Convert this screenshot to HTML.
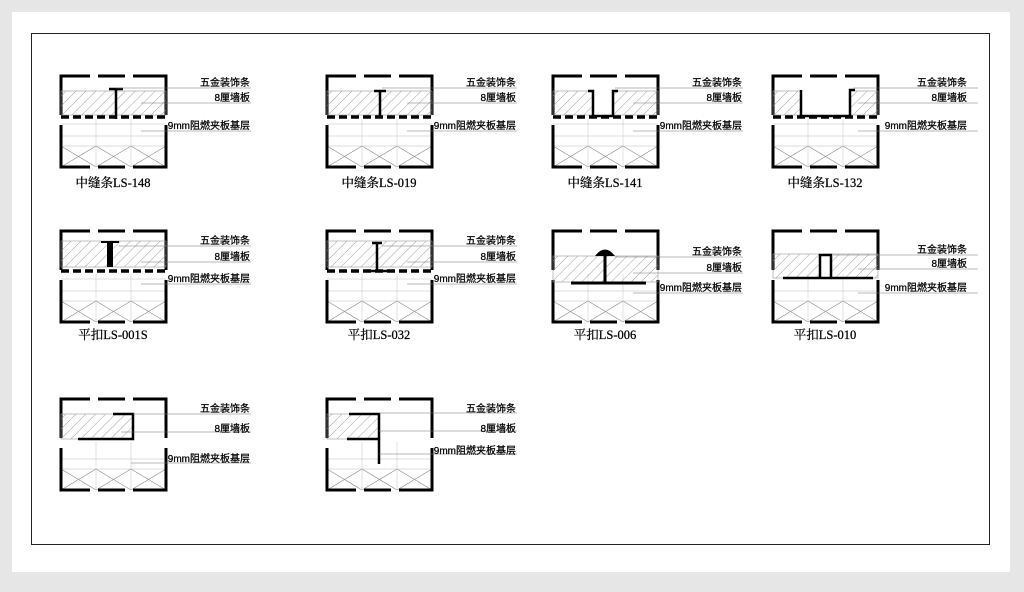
<!DOCTYPE html>
<html><head><meta charset="utf-8"><style>
html,body{margin:0;padding:0;background:#e6e6e6;width:1024px;height:592px;overflow:hidden}
svg{display:block}
text{font-family:"Liberation Sans","Noto Sans CJK SC",sans-serif;font-size:10px;fill:#000;stroke:#000;stroke-width:0.25}
.cap{font-family:"Liberation Serif","Noto Serif CJK SC",serif;font-size:12.5px;text-anchor:middle}
.lb{text-anchor:end}
</style></head><body>
<svg width="1024" height="592" viewBox="0 0 1024 592">
<defs>
<pattern id="h" width="7" height="7" patternUnits="userSpaceOnUse" patternTransform="rotate(45)">
<line x1="0" y1="0" x2="0" y2="7" stroke="#888" stroke-width="0.8"/></pattern>
<g id="fr">
<rect x="0" y="0" width="105" height="91" fill="#fff"/>
<line x1="0" y1="60" x2="105" y2="60" stroke="#bbb" stroke-width="0.6"/>
<line x1="0" y1="70" x2="105" y2="70" stroke="#bbb" stroke-width="0.6"/>
<path d="M0 70 L35 91 M35 70 L0 91 M35 70 L70 91 M70 70 L35 91 M70 70 L105 91 M105 70 L70 91" stroke="#888" stroke-width="0.6"/>
<line x1="35" y1="43" x2="35" y2="91" stroke="#ccc" stroke-width="0.6"/>
<line x1="70" y1="43" x2="70" y2="91" stroke="#ccc" stroke-width="0.6"/>
<path d="M0 0 H29 M37 0 H64 M72 0 H105 M0 91 H29 M37 91 H64 M72 91 H105 M0 -1.5 V39 M105 -1.5 V39 M0 49 V92.5 M105 49 V92.5" fill="none" stroke="#000" stroke-width="3"/>
</g>
<g id="bd">
<rect x="0" y="15" width="105" height="24" fill="url(#h)" stroke="#999" stroke-width="0.6"/>
<line x1="0" y1="41" x2="105" y2="41" stroke="#000" stroke-width="3.5" stroke-dasharray="8 4"/>
<line x1="0" y1="48" x2="105" y2="48" stroke="#bbb" stroke-width="0.6"/>
</g>
<g id="bd2">
<rect x="0" y="10" width="105" height="26" fill="url(#h)" stroke="#999" stroke-width="0.6"/>
<line x1="0" y1="40" x2="105" y2="40" stroke="#000" stroke-width="3.5" stroke-dasharray="8 4"/>
<line x1="0" y1="48" x2="105" y2="48" stroke="#bbb" stroke-width="0.6"/>
</g>
</defs>
<rect x="12" y="12" width="998" height="560" fill="#fff"/>
<rect x="31.5" y="33.5" width="958" height="511" fill="none" stroke="#222" stroke-width="1"/>

<!-- Row 1 -->
<g transform="translate(61,76)"><use href="#fr"/><use href="#bd"/>
<path d="M48 13 h14 M55 13 v30" stroke="#000" stroke-width="2.5"/>
<line x1="55" y1="12" x2="190" y2="12" stroke="#777" stroke-width="0.6"/><line x1="80" y1="27" x2="190" y2="27" stroke="#777" stroke-width="0.6"/><line x1="80" y1="55" x2="190" y2="55" stroke="#777" stroke-width="0.6"/>
<text class="lb" x="189" y="10">五金装饰条</text><text class="lb" x="189" y="25">8厘墙板</text><text class="lb" x="189" y="53">9mm阻燃夹板基层</text>
<text class="cap" x="52" y="111">中缝条LS-148</text></g>

<g transform="translate(327,76)"><use href="#fr"/><use href="#bd"/>
<path d="M47 15 h12 M53 15 v27" stroke="#000" stroke-width="2.5"/>
<line x1="55" y1="12" x2="190" y2="12" stroke="#777" stroke-width="0.6"/><line x1="80" y1="27" x2="190" y2="27" stroke="#777" stroke-width="0.6"/><line x1="80" y1="55" x2="190" y2="55" stroke="#777" stroke-width="0.6"/>
<text class="lb" x="189" y="10">五金装饰条</text><text class="lb" x="189" y="25">8厘墙板</text><text class="lb" x="189" y="53">9mm阻燃夹板基层</text>
<text class="cap" x="52" y="111">中缝条LS-019</text></g>

<g transform="translate(553,76)"><use href="#fr"/><use href="#bd"/>
<rect x="40" y="14" width="20" height="26" fill="#fff"/>
<path d="M35 15 h5 v25 h20 v-25 h5" fill="none" stroke="#000" stroke-width="2.5"/>
<line x1="62" y1="12" x2="190" y2="12" stroke="#777" stroke-width="0.6"/><line x1="80" y1="27" x2="190" y2="27" stroke="#777" stroke-width="0.6"/><line x1="80" y1="55" x2="190" y2="55" stroke="#777" stroke-width="0.6"/>
<text class="lb" x="189" y="10">五金装饰条</text><text class="lb" x="189" y="25">8厘墙板</text><text class="lb" x="189" y="53">9mm阻燃夹板基层</text>
<text class="cap" x="52" y="111">中缝条LS-141</text></g>

<g transform="translate(773,76)"><use href="#fr"/><use href="#bd"/>
<rect x="29" y="12" width="47" height="29" fill="#fff"/>
<path d="M28 14 v26 h49 v-26 h5" fill="none" stroke="#000" stroke-width="2.5"/>
<line x1="80" y1="12" x2="205" y2="12" stroke="#777" stroke-width="0.6"/><line x1="85" y1="27" x2="205" y2="27" stroke="#777" stroke-width="0.6"/><line x1="85" y1="55" x2="205" y2="55" stroke="#777" stroke-width="0.6"/>
<text class="lb" x="194" y="10">五金装饰条</text><text class="lb" x="194" y="25">8厘墙板</text><text class="lb" x="194" y="53">9mm阻燃夹板基层</text>
<text class="cap" x="52" y="111">中缝条LS-132</text></g>

<!-- Row 2 -->
<g transform="translate(61,231)"><use href="#fr"/><use href="#bd2"/>
<rect x="46" y="12" width="6" height="24" fill="#000"/><path d="M40 11 h18" stroke="#000" stroke-width="2"/>
<line x1="58" y1="15" x2="190" y2="15" stroke="#777" stroke-width="0.6"/><line x1="80" y1="31" x2="190" y2="31" stroke="#777" stroke-width="0.6"/><line x1="80" y1="53" x2="190" y2="53" stroke="#777" stroke-width="0.6"/>
<text class="lb" x="189" y="13">五金装饰条</text><text class="lb" x="189" y="29">8厘墙板</text><text class="lb" x="189" y="51">9mm阻燃夹板基层</text>
<text class="cap" x="52" y="108">平扣LS-001S</text></g>

<g transform="translate(327,231)"><use href="#fr"/><use href="#bd2"/>
<path d="M45 12 h10 M50 12 v28 M40 40 h20" stroke="#000" stroke-width="2.5" fill="none"/>
<line x1="55" y1="15" x2="190" y2="15" stroke="#777" stroke-width="0.6"/><line x1="80" y1="31" x2="190" y2="31" stroke="#777" stroke-width="0.6"/><line x1="80" y1="53" x2="190" y2="53" stroke="#777" stroke-width="0.6"/>
<text class="lb" x="189" y="13">五金装饰条</text><text class="lb" x="189" y="29">8厘墙板</text><text class="lb" x="189" y="51">9mm阻燃夹板基层</text>
<text class="cap" x="52" y="108">平扣LS-032</text></g>

<g transform="translate(553,231)"><use href="#fr"/>
<rect x="0" y="25" width="105" height="26" fill="url(#h)" stroke="#999" stroke-width="0.6"/>
<path d="M42 25 Q52 12 62 25 Z" fill="#000"/>
<path d="M52 24 v28 M18 52 h75" stroke="#000" stroke-width="3" fill="none"/>
<line x1="62" y1="26" x2="190" y2="26" stroke="#777" stroke-width="0.6"/><line x1="80" y1="42" x2="190" y2="42" stroke="#777" stroke-width="0.6"/><line x1="80" y1="62" x2="190" y2="62" stroke="#777" stroke-width="0.6"/>
<text class="lb" x="189" y="24">五金装饰条</text><text class="lb" x="189" y="40">8厘墙板</text><text class="lb" x="189" y="60">9mm阻燃夹板基层</text>
<text class="cap" x="52" y="108">平扣LS-006</text></g>

<g transform="translate(773,231)"><use href="#fr"/>
<rect x="0" y="23" width="105" height="24" fill="url(#h)" stroke="#999" stroke-width="0.6"/>
<rect x="47" y="23" width="11" height="24" fill="#fff"/>
<path d="M47 47 v-23 h11 v23 M10 47 h90" stroke="#000" stroke-width="2.5" fill="none"/>
<line x1="60" y1="24" x2="205" y2="24" stroke="#777" stroke-width="0.6"/><line x1="85" y1="38" x2="205" y2="38" stroke="#777" stroke-width="0.6"/><line x1="85" y1="62" x2="205" y2="62" stroke="#777" stroke-width="0.6"/>
<text class="lb" x="194" y="22">五金装饰条</text><text class="lb" x="194" y="36">8厘墙板</text><text class="lb" x="194" y="60">9mm阻燃夹板基层</text>
<text class="cap" x="52" y="108">平扣LS-010</text></g>

<!-- Row 3 -->
<g transform="translate(61,399)"><use href="#fr"/>
<rect x="0" y="15" width="72" height="25" fill="url(#h)" stroke="#999" stroke-width="0.6"/>
<path d="M52 15 h20 v25 h-55" stroke="#000" stroke-width="2.5" fill="none"/>
<line x1="72" y1="15" x2="190" y2="15" stroke="#777" stroke-width="0.6"/><line x1="60" y1="33" x2="190" y2="33" stroke="#777" stroke-width="0.6"/><line x1="70" y1="64" x2="190" y2="64" stroke="#777" stroke-width="0.6"/>
<text class="lb" x="189" y="13">五金装饰条</text><text class="lb" x="189" y="33">8厘墙板</text><text class="lb" x="189" y="63">9mm阻燃夹板基层</text></g>

<g transform="translate(327,399)"><use href="#fr"/>
<rect x="0" y="15" width="52" height="25" fill="url(#h)" stroke="#999" stroke-width="0.6"/>
<path d="M22 15 h30 v50 M20 40 h32" stroke="#000" stroke-width="2.5" fill="none"/>
<line x1="52" y1="14" x2="190" y2="14" stroke="#777" stroke-width="0.6"/><line x1="52" y1="32" x2="190" y2="32" stroke="#777" stroke-width="0.6"/><line x1="52" y1="55" x2="190" y2="55" stroke="#777" stroke-width="0.6"/>
<text class="lb" x="189" y="13">五金装饰条</text><text class="lb" x="189" y="33">8厘墙板</text><text class="lb" x="189" y="55">9mm阻燃夹板基层</text></g>
</svg>
</body></html>
